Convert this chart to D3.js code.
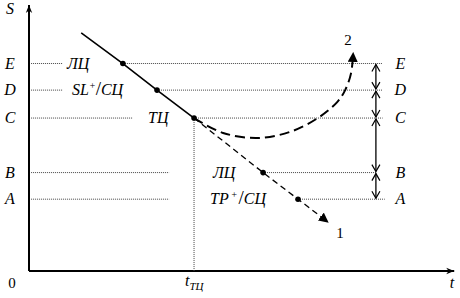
<!DOCTYPE html>
<html><head><meta charset="utf-8">
<script src="https://cdn.jsdelivr.net/npm/d3@7"></script>
<style>
html,body{margin:0;padding:0;background:#fff;}
text{font-family:"Liberation Serif","Times New Roman",serif;font-style:italic;fill:#000;}
</style></head>
<body>
<svg id="c" width="460" height="298"></svg>
<script>
// ---- data (abstract units: t in 0..100, S in 0..100) ----
const levelNames = ["A", "B", "C", "D", "E"];
const levelValues = [27, 37, 57.5, 68, 78];
const tTC = 39.2;
const trendT = [12.4, 22.3, 30.4, 39.2];          // solid line, dots at 22.3, 30.4, 39.2
const trendS = [89.5, 78, 68, 57.5];
const path1T = [39.2, 55.6, 63.9, 71.0];           // dashed continuation "1"
const path1S = [57.5, 37, 27, 18.4];
const path2T = [39.2, 46.1, 54.2, 62.0, 68.6, 73.2, 75.1, 76.5, 77.0]; // reversal "2"
const path2S = [57.5, 51.9, 50.0, 52.3, 57.5, 63.5, 68.0, 74.4, 82.0];
const leftLineEnd = [33.3, 33.3, 24.5, 8.0, 8.0];   // end of left dotted segments (A..E)
const rightLineStart = [63.9, 55.6, 39.2, 30.4, 22.3];
const rightLineEnd = [84.5, 82.5, 84, 84, 84];
const bracketT = 82.4;

const svg = d3.select("#c");
const x = d3.scaleLinear().domain([0, 100]).range([29, 450]);
const y = d3.scaleLinear().domain([0, 100]).range([271, 5]);

// arrow markers
const defs = svg.append("defs");
defs.append("marker").attr("id","tri").attr("viewBox","0 0 10 10").attr("refX",9).attr("refY",5)
  .attr("markerWidth",10).attr("markerHeight",10).attr("markerUnits","userSpaceOnUse").attr("orient","auto")
  .append("path").attr("d","M0,0L10,5L0,10Z").attr("fill","#000");
defs.append("marker").attr("id","axisArrow").attr("viewBox","0 0 10 10").attr("refX",10).attr("refY",5)
  .attr("markerWidth",12).attr("markerHeight",8).attr("markerUnits","userSpaceOnUse").attr("orient","auto")
  .append("path").attr("d","M0,1L10,5L0,9L3,5Z").attr("fill","#000");

// axes
svg.append("line").attr("x1",x(0)).attr("y1",y(0)).attr("x2",x(0)).attr("y2",y(100))
  .attr("stroke","#000").attr("stroke-width",2).attr("marker-end","url(#axisArrow)");
svg.append("line").attr("x1",x(0)).attr("y1",y(0)).attr("x2",x(101)).attr("y2",y(0))
  .attr("stroke","#000").attr("stroke-width",2).attr("marker-end","url(#axisArrow)");

// dotted level lines
const dot = {stroke:"#444", "stroke-width":1, "stroke-dasharray":"1,1"};
function applyAttrs(sel, a){ for (const k in a) sel.attr(k, a[k]); return sel; }
levelValues.forEach((v,i)=>{
  applyAttrs(svg.append("line").attr("x1",x(0.5)).attr("x2",x(leftLineEnd[i])).attr("y1",y(v)).attr("y2",y(v)), dot);
  applyAttrs(svg.append("line").attr("x1",x(rightLineStart[i])).attr("x2",x(rightLineEnd[i])).attr("y1",y(v)).attr("y2",y(v)), dot);
});
applyAttrs(svg.append("line").attr("x1",x(tTC)).attr("x2",x(tTC)).attr("y1",y(57.5)).attr("y2",y(0)), dot);

// trend solid
const line = d3.line().x(d=>x(d[0])).y(d=>y(d[1]));
svg.append("path").attr("d", line(trendT.map((t,i)=>[t,trendS[i]])))
  .attr("fill","none").attr("stroke","#000").attr("stroke-width",1.6);
// path 1
svg.append("path").attr("d", line(path1T.map((t,i)=>[t,path1S[i]])))
  .attr("fill","none").attr("stroke","#000").attr("stroke-width",1.3)
  .attr("stroke-dasharray","6,4").attr("marker-end","url(#tri)");
// path 2
const curve = d3.line().x(d=>x(d[0])).y(d=>y(d[1])).curve(d3.curveCatmullRom.alpha(0.5));
svg.append("path").attr("d", curve(path2T.map((t,i)=>[t,path2S[i]])))
  .attr("fill","none").attr("stroke","#000").attr("stroke-width",2)
  .attr("stroke-dasharray","10,5").attr("marker-end","url(#tri)");

// dots
const dotsData = trendT.slice(1).map((t,i)=>[t,trendS[i+1]]).concat(path1T.slice(1,3).map((t,i)=>[t,path1S[i+1]]));
svg.selectAll("circle.d").data(dotsData).join("circle").attr("cx",d=>x(d[0])).attr("cy",d=>y(d[1])).attr("r",2.8).attr("fill","#000");

// double arrows
for (let i=0;i<levelValues.length-1;i++){
  const y1 = y(levelValues[i]), y2 = y(levelValues[i+1]), bx = x(bracketT);
  svg.append("line").attr("x1",bx).attr("x2",bx).attr("y1",y1-1).attr("y2",y2+1).attr("stroke","#000").attr("stroke-width",1.3);
  svg.append("path").attr("d",`M${bx-4},${y2+8}L${bx},${y2+1}L${bx+4},${y2+8}`).attr("fill","none").attr("stroke","#000").attr("stroke-width",1.2);
  svg.append("path").attr("d",`M${bx-4},${y1-8}L${bx},${y1-1}L${bx+4},${y1-8}`).attr("fill","none").attr("stroke","#000").attr("stroke-width",1.2);
}

// level labels
levelValues.forEach((v,i)=>{
  svg.append("text").attr("x",10).attr("y",y(v)+5).attr("text-anchor","middle").attr("font-size",16).text(levelNames[i]);
  svg.append("text").attr("x",x(88.2)).attr("y",y(v)+5).attr("text-anchor","middle").attr("font-size",16).text(levelNames[i]);
});

// axis labels
svg.append("text").attr("x",10).attr("y",14).attr("text-anchor","middle").attr("font-size",16).text("S");
svg.append("text").attr("x",452).attr("y",288).attr("text-anchor","middle").attr("font-size",16).text("t");
svg.append("text").attr("x",12).attr("y",288).attr("text-anchor","middle").attr("font-size",15).style("font-style","normal").text("0");
const tl = svg.append("text").attr("x",x(tTC)-9).attr("y",286).attr("font-size",16);
tl.append("tspan").text("t");
tl.append("tspan").attr("dy",4).attr("font-size",11).text("ТЦ");

// annotations
svg.append("text").attr("x",67).attr("y",y(78)+5).attr("font-size",16).text("ЛЦ");
const sl = svg.append("text").attr("x",72).attr("y",y(68)+5).attr("font-size",16);
sl.append("tspan").text("SL");
sl.append("tspan").attr("dy",-6).attr("font-size",10).text("+");
sl.append("tspan").attr("dy",6).attr("font-size",19).style("font-style","normal").text("/");
sl.append("tspan").text("СЦ");
svg.append("text").attr("x",148).attr("y",y(57.5)+5).attr("font-size",16).text("ТЦ");
svg.append("text").attr("x",213).attr("y",y(37)+5).attr("font-size",16).text("ЛЦ");
const tp = svg.append("text").attr("x",210).attr("y",y(27)+5).attr("font-size",16);
tp.append("tspan").text("ТР");
tp.append("tspan").attr("dy",-6).attr("dx",2).attr("font-size",10).text("+");
tp.append("tspan").attr("dy",6).attr("dx",1).attr("font-size",19).style("font-style","normal").text("/");
tp.append("tspan").text("СЦ");
svg.append("text").attr("x",340).attr("y",238).attr("text-anchor","middle").attr("font-size",15).style("font-style","normal").text("1");
svg.append("text").attr("x",348).attr("y",45).attr("text-anchor","middle").attr("font-size",15).style("font-style","normal").text("2");
</script>
</body></html>
